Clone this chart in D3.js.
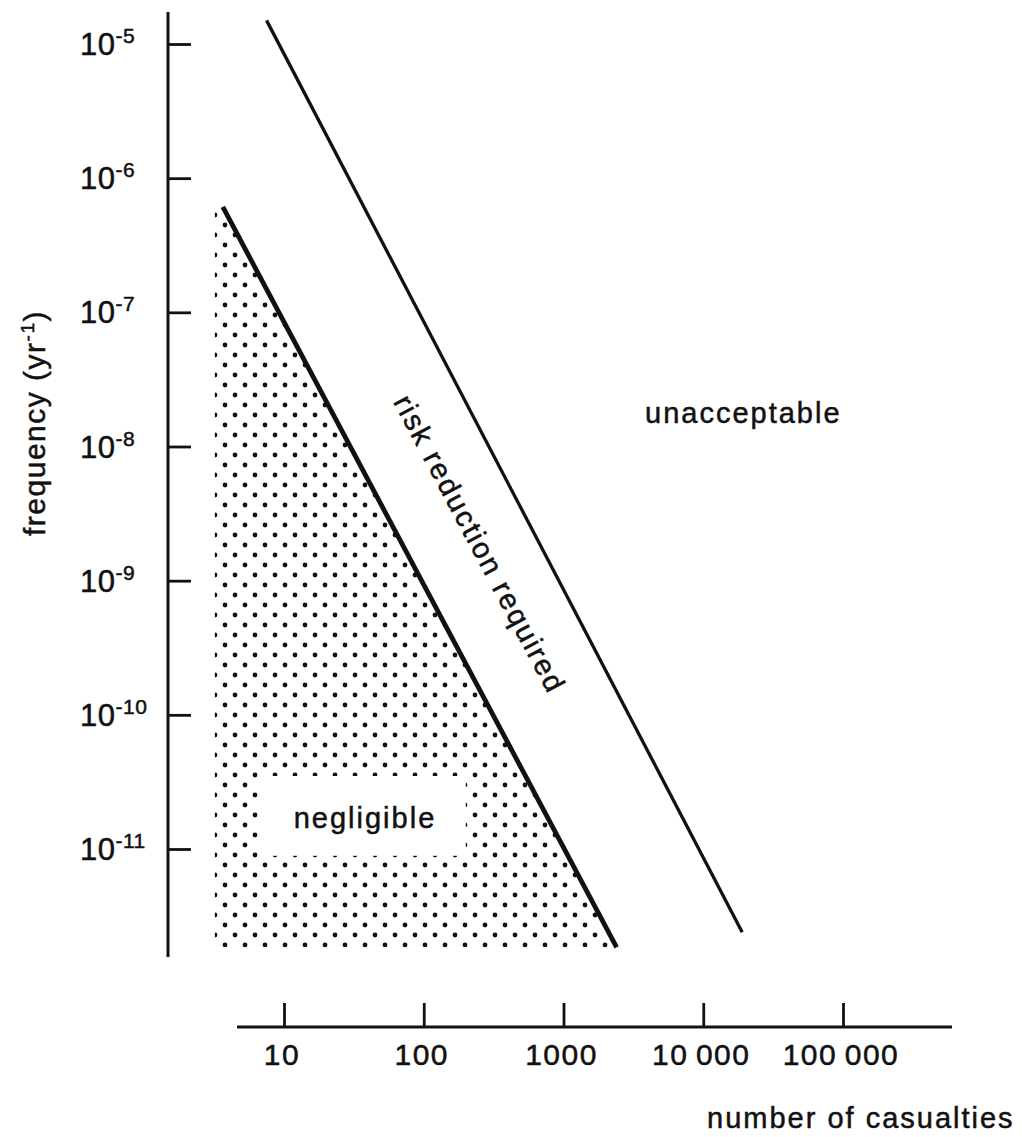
<!DOCTYPE html>
<html>
<head>
<meta charset="utf-8">
<script src="https://cdn.jsdelivr.net/npm/d3@7"></script>
<style>
  body { margin: 0; background: #fff; }
  text { font-family: "Liberation Sans", Arial, Helvetica, sans-serif; fill: #111; stroke: #111; stroke-width: 0.5px; }
</style>
</head>
<body>
<svg></svg>
<script>
// values
const xTickValues = [10, 100, 1000, 10000, 100000];
const xTickLabels = ["10", "100", "1000", "10\u2009000", "100\u2009000"];
const yTickValues = [1e-5, 1e-6, 1e-7, 1e-8, 1e-9, 1e-10, 1e-11];
const yTickExponents = ["-5", "-6", "-7", "-8", "-9", "-10", "-11"];

// criterion lines: casualties N vs frequency F
const upperN = [7.5, 19000];
const upperF = [1.5e-5, 2.4e-12];
const lowerN = [3.65, 2400];
const lowerF = [6.1e-7, 1.85e-12];

// left edge of the dotted "negligible" area and the blank box round its label
const negligibleLeftN = 3.2;
const negligibleBoxN = [6.5, 200];
const negligibleBoxF = [3.5e-11, 8.9e-12];

function riskChart() {
  const width = 1022;
  const height = 1137;

  const svg = d3.select("svg").attr("width", width).attr("height", height);

  const x = d3.scaleLog([10, 100000], [284, 843]);
  const y = d3.scaleLog([1e-5, 1e-11], [44, 849]);

  const defs = svg.append("defs");
  const pat = defs
    .append("pattern")
    .attr("id", "dots")
    .attr("patternUnits", "userSpaceOnUse")
    .attr("x", 10)
    .attr("y", 10)
    .attr("width", 20)
    .attr("height", 20);
  pat.append("circle").attr("cx", 5).attr("cy", 5).attr("r", 2.4).attr("fill", "#111");
  pat.append("circle").attr("cx", 15).attr("cy", 15).attr("r", 2.4).attr("fill", "#111");

  // dotted negligible region
  const region = [
    [negligibleLeftN, lowerF[0]],
    [lowerN[0], lowerF[0]],
    [lowerN[1], lowerF[1]],
    [negligibleLeftN, lowerF[1]],
  ];
  svg
    .append("path")
    .attr("d", d3.line().x((d) => x(d[0])).y((d) => y(d[1]))(region) + "Z")
    .attr("fill", "url(#dots)");

  svg
    .append("rect")
    .attr("x", x(negligibleBoxN[0]))
    .attr("y", y(negligibleBoxF[0]))
    .attr("width", x(negligibleBoxN[1]) - x(negligibleBoxN[0]))
    .attr("height", y(negligibleBoxF[1]) - y(negligibleBoxF[0]))
    .attr("fill", "#fff");

  // criterion lines
  const line = d3.line().x((d) => x(d[0])).y((d) => y(d[1]));
  svg
    .append("path")
    .attr("d", line(d3.zip(upperN, upperF)))
    .attr("stroke", "#111")
    .attr("stroke-width", 3.3)
    .attr("fill", "none");
  svg
    .append("path")
    .attr("d", line(d3.zip(lowerN, lowerF)))
    .attr("stroke", "#111")
    .attr("stroke-width", 4.8)
    .attr("fill", "none");

  // y axis
  const gy = svg
    .append("g")
    .attr("transform", "translate(168,0)")
    .call(d3.axisRight(y).tickValues(yTickValues).tickSize(23).tickFormat(""));
  gy.select(".domain").attr("d", "M0,12V957").attr("stroke-width", 3).attr("stroke", "#111");
  gy.selectAll(".tick line").attr("stroke-width", 2.8).attr("stroke", "#111");

  const yl = svg
    .selectAll(".ylab")
    .data(yTickValues)
    .enter()
    .append("text")
    .attr("class", "ylab")
    .attr("x", 80)
    .attr("y", (d) => y(d) + 11)
    .style("font-size", "31px")
    .style("letter-spacing", "0.5px");
  yl.append("tspan").text("10");
  yl.append("tspan")
    .attr("dy", -12)
    .style("font-size", "21px")
    .text((_, i) => yTickExponents[i]);

  // x axis
  const gx = svg
    .append("g")
    .attr("transform", "translate(0,1027)")
    .call(d3.axisTop(x).tickValues(xTickValues).tickSize(24).tickFormat(""));
  gx.select(".domain").attr("d", "M237,0H952").attr("stroke-width", 3).attr("stroke", "#111");
  gx.selectAll(".tick line").attr("stroke-width", 2.8).attr("stroke", "#111");

  svg
    .selectAll(".xlab")
    .data(xTickValues)
    .enter()
    .append("text")
    .attr("class", "xlab")
    .attr("x", (d) => x(d) - 2)
    .attr("y", 1065)
    .attr("text-anchor", "middle")
    .style("font-size", "30px")
    .style("letter-spacing", "1.5px")
    .text((_, i) => xTickLabels[i]);

  // axis titles
  const yt = svg
    .append("text")
    .attr("transform", "translate(45,423) rotate(-90)")
    .attr("text-anchor", "middle")
    .style("font-size", "30px")
    .style("letter-spacing", "1.5px");
  yt.append("tspan").text("frequency (yr");
  yt.append("tspan").attr("dy", -11).style("font-size", "19px").text("-1");
  yt.append("tspan").attr("dy", 11).text(")");

  svg
    .append("text")
    .attr("x", 707)
    .attr("y", 1128)
    .style("font-size", "29px")
    .style("letter-spacing", "2px")
    .text("number of casualties");

  // region labels
  svg
    .append("text")
    .attr("x", 645)
    .attr("y", 423)
    .style("font-size", "29px")
    .style("letter-spacing", "2px")
    .text("unacceptable");

  svg
    .append("text")
    .attr("x", 365)
    .attr("y", 828)
    .attr("text-anchor", "middle")
    .style("font-size", "29px")
    .style("letter-spacing", "2px")
    .text("negligible");

  svg
    .append("text")
    .attr("transform", "translate(478,545) rotate(62)")
    .attr("y", 8)
    .attr("text-anchor", "middle")
    .style("font-size", "29px")
    .style("letter-spacing", "2px")
    .text("risk reduction required");
}

riskChart();
</script>
</body>
</html>
